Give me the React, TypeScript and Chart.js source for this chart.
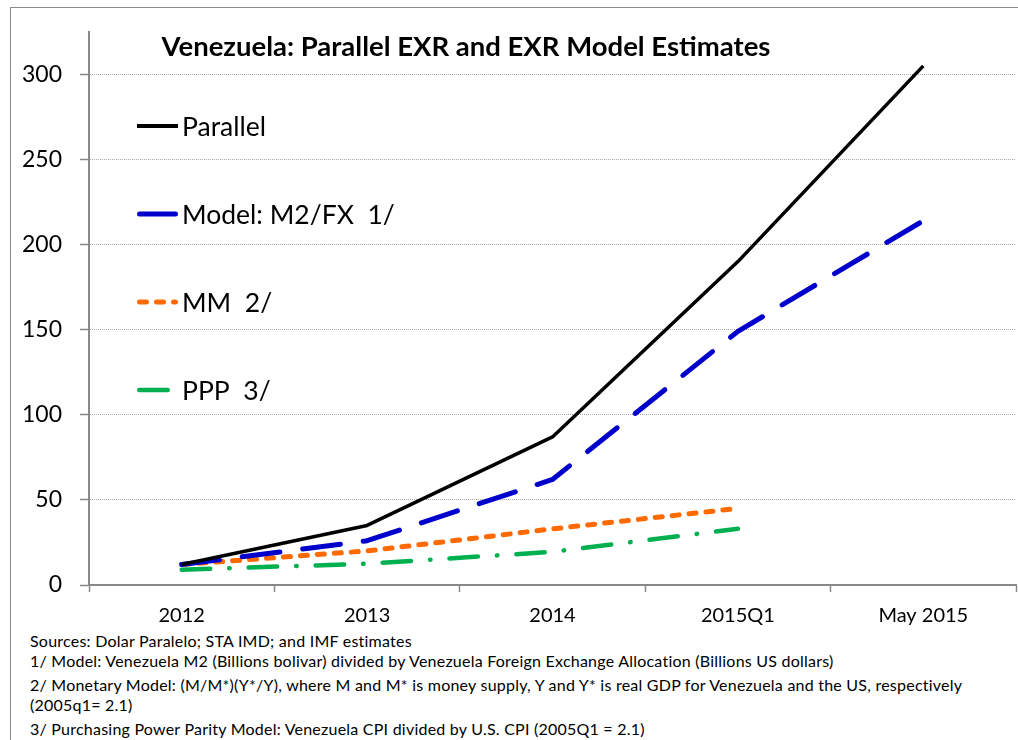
import React, { useEffect, useRef } from "react";
import { Chart, registerables } from "chart.js";

Chart.register(...registerables);

const categories = ["2012", "2013", "2014", "2015Q1", "May 2015"];
const parallel = [12, 35, 87, 190, 305];
const modelM2 = [12, 26, 62, 149, 214];
const mm = [12, 20, 33, 45, null];
const ppp = [9, 12.5, 19.5, 33, null];
const yTickValues = [0, 50, 100, 150, 200, 250, 300];
const seriesNames = ["Parallel", "Model: M2/FX  1/", "MM  2/", "PPP  3/"];

const titleText = "Venezuela: Parallel EXR and EXR Model Estimates";
const footnotes = [
  "Sources: Dolar Paralelo; STA IMD; and IMF estimates",
  "1/  Model:  Venezuela M2 (Billions bolivar) divided by Venezuela Foreign Exchange Allocation (Billions US dollars)",
  "2/  Monetary Model: (M/M*)(Y*/Y), where M and M* is money supply, Y and Y* is real GDP for Venezuela and the US, respectively",
  "(2005q1= 2.1)",
  "3/  Purchasing Power Parity Model: Venezuela CPI divided by U.S. CPI (2005Q1 = 2.1)",
];

const FONT = "Lato, 'Open Sans', sans-serif";

const legendPlugin = {
  id: "customLegend",
  afterDraw(chart: any) {
    const ctx = chart.ctx;
    const x0 = 137;
    const x1 = 178;
    const tx = 182;
    const ys = [126, 214, 302, 390];
    chart.data.datasets.forEach((ds: any, i: number) => {
      const y = ys[i];
      ctx.save();
      ctx.strokeStyle = ds.borderColor;
      ctx.lineWidth = i === 0 ? 4 : ds.borderWidth;
      ctx.lineCap = ds.borderCapStyle || "butt";
      ctx.setLineDash(ds.borderDash || []);
      ctx.beginPath();
      const end = i === 3 ? 171 : x1;
      ctx.moveTo(x0 + (ds.borderCapStyle === "round" ? ds.borderWidth / 2 : 0), y);
      ctx.lineTo(end - (ds.borderCapStyle === "round" ? ds.borderWidth / 2 : 0), y);
      ctx.stroke();
      ctx.restore();
      ctx.save();
      ctx.fillStyle = "#000";
      ctx.font = `26.5px ${FONT}`;
      ctx.textBaseline = "middle";
      ctx.textAlign = "left";
      ctx.fillText(ds.label, tx, y + 1);
      ctx.restore();
    });
  },
};

function ChartCanvas() {
  const ref = useRef<HTMLCanvasElement | null>(null);
  useEffect(() => {
    if (!ref.current) return;
    const chart = new Chart(ref.current, {
      type: "line",
      data: {
        labels: categories,
        datasets: [
          {
            label: seriesNames[0],
            data: parallel,
            borderColor: "#000000",
            borderWidth: 3.5,
            pointRadius: 0,
            tension: 0,
            borderJoinStyle: "round",
          },
          {
            label: seriesNames[1],
            data: modelM2,
            borderColor: "#0000CC",
            borderWidth: 5,
            borderDash: [38, 23],
            borderCapStyle: "round",
            borderJoinStyle: "round",
            pointRadius: 0,
            tension: 0,
          },
          {
            label: seriesNames[2],
            data: mm,
            borderColor: "#FF6A00",
            borderWidth: 5,
            borderDash: [7, 10],
            borderCapStyle: "round",
            borderJoinStyle: "round",
            pointRadius: 0,
            tension: 0,
          },
          {
            label: seriesNames[3],
            data: ppp,
            borderColor: "#00B050",
            borderWidth: 4.5,
            borderDash: [28.5, 19, 0.5, 19],
            borderCapStyle: "round",
            borderJoinStyle: "round",
            pointRadius: 0,
            tension: 0,
          },
        ] as any,
      },
      options: {
        animation: false,
        responsive: false,
        maintainAspectRatio: false,
        layout: { padding: { left: 0, top: 31, right: 2, bottom: 0 } },
        plugins: {
          legend: { display: false },
          title: { display: false },
          tooltip: { enabled: false },
        },
        scales: {
          x: {
            type: "category",
            offset: true,
            afterFit: (s: any) => {
              s.height = 45;
            },
            grid: {
              offset: true,
              drawOnChartArea: false,
              tickLength: 7,
              tickColor: "#888",
              tickWidth: 1.5,
            },
            border: { color: "#888", width: 2 },
            ticks: {
              color: "#000",
              font: { size: 20, family: FONT },
              padding: 12,
              maxRotation: 0,
            },
          },
          y: {
            min: 0,
            max: 325,
            afterFit: (s: any) => {
              s.width = 89;
            },
            afterBuildTicks: (s: any) => {
              s.ticks = yTickValues.map((v) => ({ value: v }));
            },
            grid: {
              color: (c: any) => (c.tick && c.tick.value === 0 ? "rgba(0,0,0,0)" : "#aaa"),
              lineWidth: 1,
              tickLength: 9,
              tickColor: "#888",
              tickWidth: 1.5,
              tickBorderDash: [],
            } as any,
            border: { color: "#888", width: 2, dash: [1, 1] },
            ticks: {
              color: "#000",
              font: { size: 23, family: FONT },
              padding: 18,
            },
          },
        },
      } as any,
      plugins: [legendPlugin],
    });
    return () => chart.destroy();
  }, []);
  return (
    <canvas
      ref={ref}
      width={1018}
      height={630}
      style={{ position: "absolute", left: 0, top: 0, width: 1018, height: 630 }}
    />
  );
}

export default function App() {
  const footTops = [631, 651, 675, 695, 719];
  return (
    <div
      style={{
        position: "absolute",
        left: 0,
        top: 0,
        width: 1018,
        height: 740,
        overflow: "hidden",
        background: "#fff",
        fontFamily: FONT,
      }}
    >
      <div
        style={{
          position: "absolute",
          left: 10,
          top: 7,
          width: 1020,
          height: 760,
          border: "1.5px solid #8a8a8a",
          boxSizing: "border-box",
        }}
      />
      <ChartCanvas />
      <div
        style={{
          position: "absolute",
          left: 140,
          top: 29,
          width: 652,
          textAlign: "center",
          fontWeight: 700,
          fontSize: 27.5,
          lineHeight: "34px",
          whiteSpace: "nowrap",
          color: "#000",
        }}
      >
        {titleText}
      </div>
      {footnotes.map((t, i) => (
        <div
          key={i}
          style={{
            position: "absolute",
            left: 30,
            top: footTops[i],
            fontSize: 16,
            letterSpacing: "0.23px",
            lineHeight: "20px",
            whiteSpace: "nowrap",
            color: "#000",
          }}
        >
          {t}
        </div>
      ))}
    </div>
  );
}
